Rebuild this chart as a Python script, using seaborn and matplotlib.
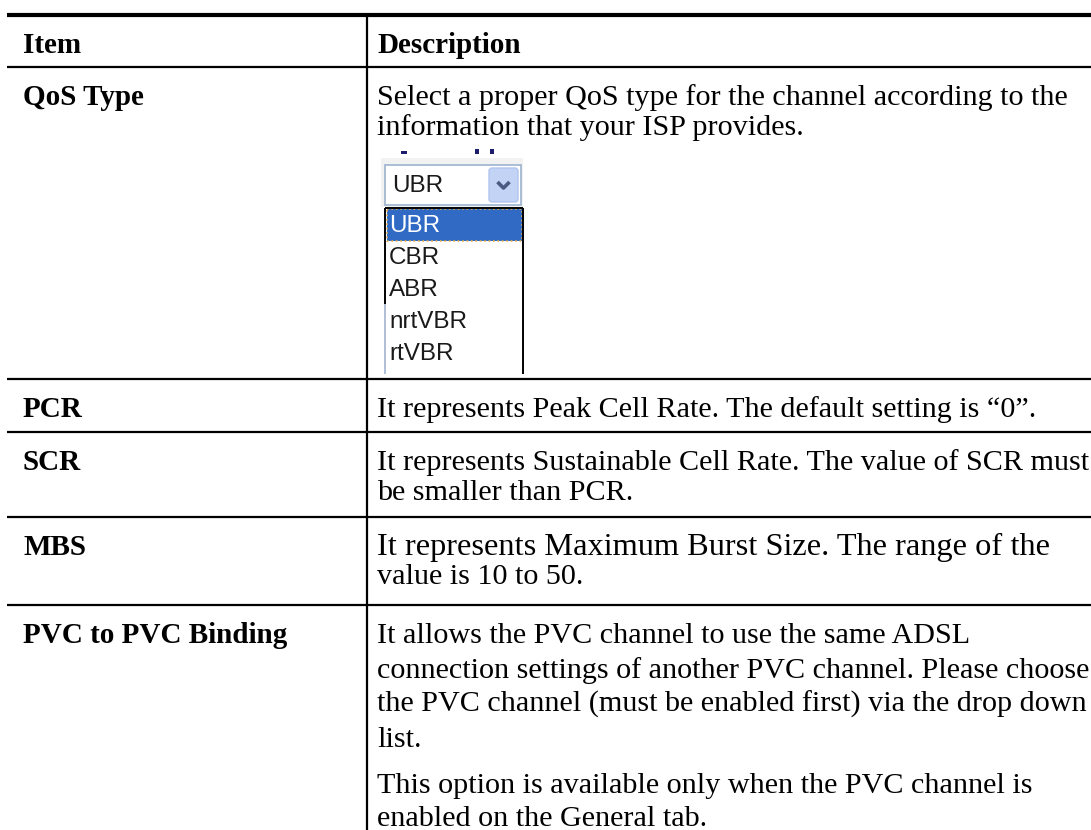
import matplotlib
matplotlib.use("Agg")
import matplotlib.pyplot as plt
from matplotlib.patches import Rectangle, FancyBboxPatch
import seaborn as sns

# ── Table content ──────────────────────────────────
header = ["Item", "Description"]
items = ["QoS Type", "PCR", "SCR", "MBS", "PVC to PVC Binding"]
descriptions = [
    ["Select a proper QoS type for the channel according to the",
     "information that your ISP provides."],
    ["It represents Peak Cell Rate. The default setting is \u201c0\u201d."],
    ["It represents Sustainable Cell Rate. The value of SCR must",
     "be smaller than PCR."],
    ["It represents Maximum Burst Size. The range of the",
     "value is 10 to 50."],
    ["It allows the PVC channel to use the same ADSL",
     "connection settings of another PVC channel. Please choose",
     "the PVC channel (must be enabled first) via the drop down",
     "list."],
]
extra_paragraph = ["This option is available only when the PVC channel is",
                   "enabled on the General tab."]
qos_options = ["UBR", "CBR", "ABR", "nrtVBR", "rtVBR"]
qos_selected = "UBR"

# ── Layout (pixels) ────────────────────────────────
W, H = 1091, 830
row_tops = [15, 67, 379, 432, 517, 605]   # header top, then each item row top
row_line_h = [30, 30, 30, 29, 34.5]       # line spacing inside each description
col_x = 367
left_x = 7
text_pad = 38
serif = ["Liberation Serif", "DejaVu Serif"]
fs = 21.7
fs_item = 21.0
ink = "black"

sns.set_theme(style="white")
plt.rcParams["font.family"] = serif
plt.rcParams["text.color"] = ink

fig = plt.figure(figsize=(W / 100, H / 100), dpi=100)
ax = fig.add_axes([0, 0, 1, 1])
ax.set_xlim(0, W)
ax.set_ylim(H, 0)
ax.axis("off")

# rules
ax.hlines(row_tops[0], left_x, W, color=ink, lw=3.0)
ax.hlines(row_tops[1:], left_x, W, color=ink, lw=1.6)
ax.vlines(col_x, row_tops[0], H, color=ink, lw=1.6)

# header
ax.text(left_x + 16, row_tops[0] + text_pad, header[0], fontsize=fs_item,
        fontweight="bold", va="baseline")
ax.text(col_x + 10, row_tops[0] + text_pad, header[1], fontsize=fs_item,
        fontweight="bold", va="baseline")

# rows
for i, (item, lines) in enumerate(zip(items, descriptions)):
    base = row_tops[i + 1] + text_pad
    step = row_line_h[i]
    ax.text(left_x + 16, base, item, fontsize=fs_item, fontweight="bold",
            va="baseline")
    for j, line in enumerate(lines):
        size = fs + 1.6 if (item == "MBS" and j == 0) else fs
        ax.text(col_x + 10, base + j * step, line, fontsize=size, va="baseline")
    if item == "PVC to PVC Binding":
        start = base + (len(lines) - 1) * step + 46
        for j, line in enumerate(extra_paragraph):
            ax.text(col_x + 10, start + j * 33, line, fontsize=fs, va="baseline")

# ── QoS drop-down screenshot ──────────────────────
dx, dy = 385, 165          # combo box top-left
box_w, box_h = 136, 40
sans = ["Liberation Sans", "DejaVu Sans"]
wfs = 17.5

# stray marks above the widget
ax.add_patch(Rectangle((dx + 16, dy - 14), 6, 3, color="#1c1c6b", lw=0))
ax.add_patch(Rectangle((dx + 90, dy - 16), 4, 5, color="#1c1c6b", lw=0))
ax.add_patch(Rectangle((dx + 105, dy - 16), 4, 5, color="#1c1c6b", lw=0))
ax.add_patch(Rectangle((dx - 4, dy - 7), box_w + 6, box_h + 9,
                       facecolor="#f2f2f2", edgecolor="none"))
ax.add_patch(Rectangle((dx, dy), box_w, box_h, facecolor="white",
                       edgecolor="#9db3cf", lw=1.2))
ax.text(dx + 7, dy + box_h / 2 + 1, qos_selected, family=sans, fontsize=wfs,
        color="#1a1a1a", va="center")
# arrow button
bx, by, bw, bh = dx + box_w - 32, dy + 3, 29, box_h - 6
ax.add_patch(FancyBboxPatch((bx, by), bw, bh, boxstyle="round,pad=0,rounding_size=3",
                            facecolor="#c3d3f6", edgecolor="#b0c4ee", lw=1))
cx, cy = bx + bw / 2, by + bh / 2
ax.plot([cx - 6, cx, cx + 6], [cy - 3, cy + 3, cy - 3], color="#4a5a80",
        lw=2.6, solid_capstyle="butt")

# option list
ly = dy + box_h + 3
row = 32
list_h = 374 - ly
ax.add_patch(Rectangle((dx, ly), box_w + 2, list_h + 2, facecolor="white",
                       edgecolor="none"))
ax.vlines(dx + box_w + 2, ly, ly + list_h, color="black", lw=1.4)
ax.hlines(ly, dx, dx + box_w + 2, color="black", lw=1.4)
ax.vlines(dx, ly, ly + 3 * row, color="black", lw=1.4)
ax.vlines(dx, ly + 3 * row, ly + list_h, color="#aebfd8", lw=1.4)
for k, opt in enumerate(qos_options):
    top = ly + 1 + k * row
    if opt == qos_selected and k == 0:
        ax.add_patch(Rectangle((dx + 1.5, top), box_w - 1, row,
                               facecolor="#316ac5", edgecolor="#e8b04a",
                               lw=1.2, linestyle=":"))
        col = "white"
    else:
        col = "#1a1a1a"
    ax.text(dx + 4, top + row / 2 + 1, opt, family=sans, fontsize=wfs,
            color=col, va="center")

fig.savefig("out.png", dpi=100, facecolor="white")
